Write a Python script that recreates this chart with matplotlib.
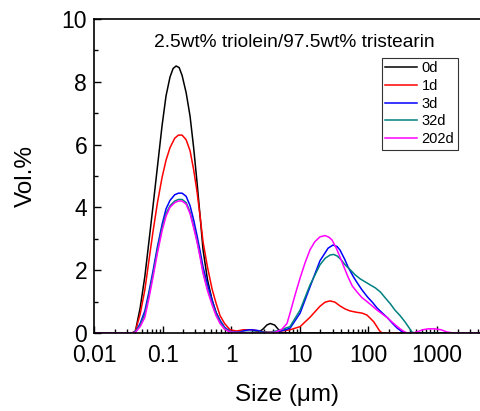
import matplotlib
matplotlib.use("Agg")
import matplotlib.pyplot as plt
from matplotlib.ticker import LogLocator, MultipleLocator, FixedLocator, FixedFormatter

plt.rcParams["font.family"] = ["Liberation Sans", "DejaVu Sans"]

# size (um) / vol.%
size_0d = [0.01, 0.036, 0.040, 0.047, 0.055, 0.063, 0.072, 0.084, 0.098, 0.112, 0.128, 0.142, 0.157,
           0.174, 0.192, 0.22, 0.251, 0.283, 0.317, 0.352, 0.388, 0.45, 0.525, 0.60, 0.687, 0.80, 0.96,
           1.3, 2.0, 2.6, 2.9, 3.3, 3.7, 4.3, 5.0, 5.5, 10, 100, 1000, 4240]
vol_0d = [0, 0, 0.05, 0.8, 1.8, 2.9, 4.0, 5.3, 6.6, 7.55, 8.15, 8.42, 8.5,
          8.45, 8.2, 7.65, 6.9, 5.9, 4.8, 3.7, 2.65, 1.7, 1.05, 0.65, 0.38, 0.15, 0.03,
          0.02, 0.0, 0.05, 0.12, 0.25, 0.3, 0.25, 0.08, 0, 0, 0, 0, 0]

size_1d = [0.01, 0.036, 0.040, 0.047, 0.055, 0.063, 0.072, 0.084, 0.098, 0.112, 0.128, 0.150, 0.17,
           0.192, 0.22, 0.251, 0.283, 0.317, 0.352, 0.388, 0.45, 0.525, 0.60, 0.687, 0.80, 0.96,
           1.2, 1.5, 2.0, 2.6, 3.5, 5.0, 7.2, 10.1, 14.1, 19.7, 23.4, 27.6, 32.5, 38.5, 46, 54,
           66, 81, 95, 105, 120, 133, 145, 158, 200, 1000, 4240]
vol_1d = [0, 0, 0.05, 0.6, 1.37, 2.3, 3.2, 4.15, 4.95, 5.5, 5.9, 6.2, 6.3,
          6.3, 6.15, 5.8, 5.2, 4.5, 3.7, 2.9, 2.1, 1.4, 0.95, 0.55, 0.3, 0.1,
          0.06, 0.1, 0.1, 0.05, 0.02, 0.05, 0.1, 0.2, 0.5, 0.85, 0.98, 1.02, 0.98, 0.86, 0.76, 0.7,
          0.66, 0.63, 0.57, 0.48, 0.35, 0.2, 0.07, 0, 0, 0, 0]

size_3d = [0.01, 0.036, 0.040, 0.047, 0.055, 0.063, 0.072, 0.084, 0.098, 0.112, 0.128, 0.150, 0.17,
           0.192, 0.22, 0.251, 0.283, 0.317, 0.352, 0.388, 0.45, 0.525, 0.60, 0.687, 0.80, 0.96,
           1.3, 1.6, 1.9, 2.4, 3.0, 3.7, 5.0, 6.2, 7.2, 10.1, 14.1, 19.7, 25.9, 30.5, 35, 38.5,
           45, 50.5, 60, 68.5, 80, 96.5, 115, 133, 160, 190, 225, 264, 300, 342, 400, 4240]
vol_3d = [0, 0, 0.03, 0.3, 0.7, 1.3, 1.95, 2.75, 3.45, 3.95, 4.22, 4.4, 4.45,
          4.45, 4.35, 4.05, 3.6, 3.1, 2.6, 2.1, 1.55, 1.05, 0.65, 0.4, 0.18, 0.05,
          0.02, 0.08, 0.1, 0.08, 0.02, 0.0, 0.05, 0.1, 0.15, 0.63, 1.47, 2.3, 2.7, 2.8, 2.75, 2.64,
          2.35, 2.1, 1.8, 1.6, 1.38, 1.15, 0.97, 0.8, 0.63, 0.48, 0.3, 0.15, 0.06, 0, 0, 0]

size_32d = [0.01, 0.036, 0.040, 0.047, 0.055, 0.063, 0.072, 0.084, 0.098, 0.112, 0.128, 0.150, 0.17,
            0.192, 0.22, 0.251, 0.283, 0.317, 0.352, 0.388, 0.45, 0.525, 0.60, 0.687, 0.80, 0.96,
            1.3, 2.0, 3.0, 3.7, 5.0, 6.2, 7.2, 10.1, 14.1, 19.7, 23.5, 27.6, 31, 35, 40, 45.7,
            55, 64, 76, 90.6, 108, 127, 150, 177, 210, 243, 290, 342, 390, 430, 470, 4240]
vol_32d = [0, 0, 0.03, 0.25, 0.6, 1.2, 1.85, 2.65, 3.35, 3.8, 4.05, 4.2, 4.25,
           4.25, 4.15, 3.85, 3.4, 2.95, 2.45, 1.95, 1.4, 0.95, 0.6, 0.35, 0.15, 0.04,
           0.01, 0.02, 0.02, 0.02, 0.08, 0.15, 0.2, 0.73, 1.53, 2.17, 2.38, 2.48, 2.5, 2.45, 2.33, 2.17,
           2.0, 1.85, 1.72, 1.62, 1.52, 1.43, 1.3, 1.11, 0.92, 0.73, 0.55, 0.35, 0.17, 0.03, 0, 0]

size_202d = [0.01, 0.036, 0.040, 0.047, 0.055, 0.063, 0.072, 0.084, 0.098, 0.112, 0.128, 0.150, 0.17,
             0.192, 0.22, 0.251, 0.283, 0.317, 0.352, 0.388, 0.45, 0.525, 0.60, 0.687, 0.80, 0.96,
             1.3, 2.0, 3.0, 4.4, 5.5, 6.5, 7.2, 8.5, 10.1, 12, 14.1, 16.5, 19.7, 23.4, 26.5, 29.5,
             34, 38.5, 44, 50.5, 58, 68.5, 80, 96.5, 115, 133, 160, 190, 220, 264, 310, 364,
             450, 540, 618, 750, 930, 1150, 1390, 1700, 4240]
vol_202d = [0, 0, 0.02, 0.2, 0.5, 1.1, 1.75, 2.55, 3.25, 3.72, 4.0, 4.15, 4.2,
            4.2, 4.1, 3.8, 3.35, 2.9, 2.4, 1.9, 1.35, 0.9, 0.55, 0.3, 0.12, 0.03,
            0.01, 0.0, 0.0, 0.02, 0.12, 0.3, 0.63, 1.2, 1.75, 2.25, 2.65, 2.9, 3.06, 3.1, 3.05, 2.96,
            2.7, 2.42, 2.1, 1.78, 1.5, 1.3, 1.13, 0.99, 0.85, 0.73, 0.6, 0.48, 0.35, 0.2, 0.08, 0,
            0, 0.05, 0.1, 0.13, 0.13, 0.1, 0.03, 0, 0]

labels = ["0d", "1d", "3d", "32d", "202d"]
colors = ["black", "#ff0000", "#0000ff", "#008080", "#ff00ff"]
series = [(size_0d, vol_0d), (size_1d, vol_1d), (size_3d, vol_3d),
          (size_32d, vol_32d), (size_202d, vol_202d)]

fig = plt.figure(figsize=(4.8, 4.11), dpi=100)
ax = fig.add_axes([0.196, 0.190, 0.804, 0.764])

for (x, y), lab, c in zip(series, labels, colors):
    ax.plot(x, y, color=c, lw=1.1, label=lab)

ax.set_xscale("log")
ax.set_xlim(0.01, 4240)
ax.set_ylim(0, 10)

ax.xaxis.set_major_locator(FixedLocator([0.01, 0.1, 1, 10, 100, 1000]))
ax.xaxis.set_major_formatter(FixedFormatter(["0.01", "0.1", "1", "10", "100", "1000"]))
ax.xaxis.set_minor_locator(LogLocator(base=10, subs=range(2, 10), numticks=20))
ax.yaxis.set_major_locator(MultipleLocator(2))
ax.yaxis.set_minor_locator(MultipleLocator(1))
ax.tick_params(which="both", direction="in", labelsize=16.5, width=1)
ax.tick_params(which="major", length=5)
ax.tick_params(which="minor", length=3)
ax.tick_params(axis="x", pad=8)
ax.tick_params(axis="y", pad=5)

ax.spines["right"].set_visible(False)
for s in ["left", "bottom", "top"]:
    ax.spines[s].set_linewidth(1.2)

ax.set_xlabel("Size (\u03bcm)", fontsize=17.5, labelpad=12)
ax.set_ylabel("Vol.%", fontsize=17.5, labelpad=18)

ax.text(0.518, 0.925, "2.5wt% triolein/97.5wt% tristearin", transform=ax.transAxes,
        ha="center", va="center", fontsize=13.8)

leg = ax.legend(loc="upper left", bbox_to_anchor=(0.745, 0.876), fontsize=10.5,
                frameon=True, fancybox=False, handlelength=2.2, handletextpad=0.3,
                labelspacing=0.25, borderpad=0.25, borderaxespad=0)
leg.get_frame().set_edgecolor("black")
leg.get_frame().set_linewidth(0.8)

plt.savefig("out.png", dpi=100)
plt.close()
